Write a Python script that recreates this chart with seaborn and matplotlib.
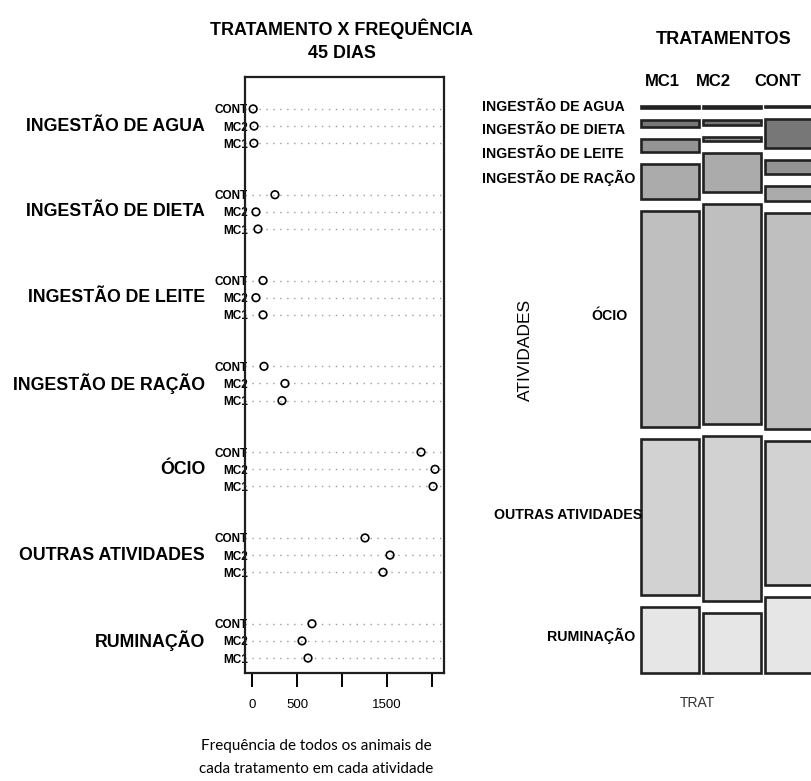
import matplotlib
matplotlib.use("Agg")
import matplotlib.pyplot as plt
from matplotlib.patches import Rectangle
from matplotlib.transforms import blended_transform_factory
import pandas as pd
import seaborn as sns

# Activities (top to bottom) and treatments
atividades = ["INGESTÃO DE AGUA", "INGESTÃO DE DIETA", "INGESTÃO DE LEITE",
              "INGESTÃO DE RAÇÃO", "ÓCIO", "OUTRAS ATIVIDADES", "RUMINAÇÃO"]
tratamentos = ["MC1", "MC2", "CONT"]

# Frequency of all animals of each treatment in each activity (45 days)
freq_mc1 = [18, 64, 120, 331, 2017, 1459, 622]
freq_mc2 = [20, 41, 41, 365, 2039, 1537, 555]
freq_cont = [10, 253, 120, 131, 1883, 1258, 666]

x_ticks = [0, 500, 1000, 1500, 2000]
x_tick_labels = ["0", "500", "", "1500", ""]

sns.set_theme(style="white")
plt.rcParams["font.family"] = ["Liberation Sans Narrow", "Liberation Sans", "DejaVu Sans"]
plt.rcParams["text.color"] = "black"
plt.rcParams["xtick.color"] = "black"
plt.rcParams["ytick.color"] = "black"

W, H = 811, 781
fig = plt.figure(figsize=(W / 100, H / 100), dpi=100)


def fx(px):
    return px / W


def fy(py):
    return 1 - py / H


freq_by_trat = {"MC1": freq_mc1, "MC2": freq_mc2, "CONT": freq_cont}

# ---------------- grouped dot chart ----------------
ordem_grupo = ["CONT", "MC2", "MC1"]
rows = []
for g, atv in enumerate(atividades):
    for k, t in enumerate(ordem_grupo):
        rows.append({"atividade": atv, "trat": t, "freq": freq_by_trat[t][g],
                     "ypos": g * 5 + k})
df = pd.DataFrame(rows)

ax = fig.add_axes([fx(245), fy(673), fx(444) - fx(245), fy(77) - fy(673)])
for y in df["ypos"]:
    ax.axhline(y, color="#9c9c9c", ls=(0, (1, 4)), lw=1.0, zorder=0)
sns.scatterplot(data=df, x="freq", y="ypos", ax=ax, marker="o", s=30,
                facecolors="none", edgecolor="black", linewidth=1.2,
                legend=False, zorder=3)
ax.set_xlim(-81, 2139)
ax.set_ylim(32.87, -1.86)
ax.set_xticks(x_ticks)
ax.set_xticklabels(x_tick_labels, fontsize=9.5, family=["Liberation Sans"])
ax.set_yticks(df["ypos"])
ax.set_yticklabels(df["trat"], fontsize=8.5, fontweight="bold",
                   family=["Liberation Sans"])
ax.tick_params(axis="x", direction="out", length=10, width=1.4, colors="black",
               bottom=True, pad=9)
ax.tick_params(axis="y", length=0, pad=-2)
ax.set_xlabel("")
ax.set_ylabel("")
for sp in ax.spines.values():
    sp.set_visible(True)
    sp.set_color("#1e1e1e")
    sp.set_linewidth(1.6)

trans = blended_transform_factory(ax.transAxes, ax.transData)
for g, atv in enumerate(atividades):
    ax.text(-0.2, g * 5 + 1, atv, transform=trans, ha="right", va="center",
            fontsize=12.8, fontweight="bold", color="black")

fig.text(fx(342), fy(29), "TRATAMENTO X FREQUÊNCIA", ha="center", va="center",
         fontsize=12.9, fontweight="bold")
fig.text(fx(342), fy(53), "45 DIAS", ha="center", va="center",
         fontsize=12.9, fontweight="bold")
fig.text(fx(316), fy(746), "Frequência de todos os animais de", ha="center",
         va="center", fontsize=11, family=["Lato", "DejaVu Sans"])
fig.text(fx(316), fy(769), "cada tratamento em cada atividade", ha="center",
         va="center", fontsize=11, family=["Lato", "DejaVu Sans"])

# ---------------- mosaic plot ----------------
cores = ["#4D4D4D", "#777777", "#949494", "#ABABAB", "#BFBFBF", "#D2D2D2", "#E6E6E6"]
gap_x = 4 / 178
gap_y = 12 / 567

ax2 = fig.add_axes([fx(641), fy(673), fx(819) - fx(641), fy(106) - fy(673)])
ax2.set_xlim(0, 1)
ax2.set_ylim(0, 1)
ax2.axis("off")

totais = {t: sum(freq_by_trat[t]) for t in tratamentos}
total_geral = sum(totais.values())
x0 = 0.0
for t in tratamentos:
    w = (1 - 2 * gap_x) * totais[t] / total_geral
    y_top = 1.0
    for i, v in enumerate(freq_by_trat[t]):
        h = (1 - 6 * gap_y) * v / totais[t]
        ax2.add_patch(Rectangle((x0, y_top - h), w, h, facecolor=cores[i],
                                edgecolor="#222222", linewidth=1.9, clip_on=False))
        y_top -= h + gap_y
    x0 += w + gap_x

fig.text(fx(724), fy(40), "TRATAMENTOS", ha="center", va="center",
         fontsize=13, fontweight="bold")
for lab, px in zip(tratamentos, [662, 713, 778]):
    fig.text(fx(px), fy(81), lab, ha="center", va="center", fontsize=12,
             fontweight="bold")
for lab, py in zip(atividades[:4], [107, 130, 154, 178]):
    fig.text(fx(482), fy(py), lab, ha="left", va="center", fontsize=10.2,
             fontweight="bold")
for lab, px, py in zip(atividades[4:], [628, 642, 635], [316, 515, 636]):
    fig.text(fx(px), fy(py), lab, ha="right", va="center", fontsize=10.2,
             fontweight="bold")
fig.text(fx(525), fy(350), "ATIVIDADES", ha="center", va="center", rotation=90,
         fontsize=12.5)
fig.text(fx(697), fy(703), "TRAT", ha="center", va="center", fontsize=10,
         color="#333333")

fig.savefig("out.png", dpi=100)
